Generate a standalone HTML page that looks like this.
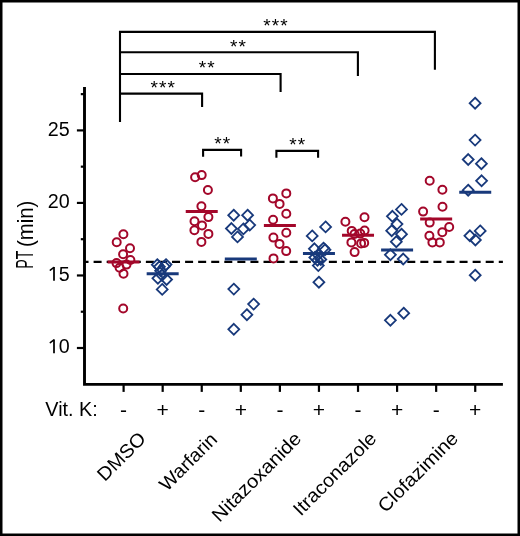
<!DOCTYPE html>
<html><head><meta charset="utf-8"><style>
html,body{margin:0;padding:0;background:#fff;}
svg{display:block;will-change:transform;}
</style></head><body>
<svg width="520" height="536" viewBox="0 0 520 536">
<rect x="1.25" y="1.25" width="517.5" height="533.5" fill="none" stroke="#000" stroke-width="2.5"/>
<path d="M120 122 V31.9 H434.9 V69.8 M120 52.2 H357.9 V76 M120 74 H280.6 V91.9 M120 93.6 H202.1 V106.9" fill="none" stroke="#000" stroke-width="2.1"/>
<path d="M203.1 156.8 V149.9 H241.1 V156.6 M276.4 157.8 V150.9 H318.1 V157.8" fill="none" stroke="#000" stroke-width="2.1"/>
<line x1="84" y1="261.9" x2="502.9" y2="261.9" stroke="#000" stroke-width="2.1" stroke-dasharray="8 5.07" stroke-dashoffset="3.47"/>
<path d="M84.5 86.9 V384.4 H502.9" fill="none" stroke="#000" stroke-width="2.9"/>
<line x1="76.9" y1="130.40" x2="84.5" y2="130.40" stroke="#000" stroke-width="2.2"/>
<line x1="76.9" y1="202.93" x2="84.5" y2="202.93" stroke="#000" stroke-width="2.2"/>
<line x1="76.9" y1="275.47" x2="84.5" y2="275.47" stroke="#000" stroke-width="2.2"/>
<line x1="76.9" y1="348.00" x2="84.5" y2="348.00" stroke="#000" stroke-width="2.2"/>
<line x1="80.8" y1="94.13" x2="84.5" y2="94.13" stroke="#000" stroke-width="2.2"/>
<line x1="80.8" y1="166.66" x2="84.5" y2="166.66" stroke="#000" stroke-width="2.2"/>
<line x1="80.8" y1="239.20" x2="84.5" y2="239.20" stroke="#000" stroke-width="2.2"/>
<line x1="80.8" y1="311.73" x2="84.5" y2="311.73" stroke="#000" stroke-width="2.2"/>
<line x1="123.60" y1="384.4" x2="123.60" y2="391.9" stroke="#000" stroke-width="2.2"/>
<line x1="162.67" y1="384.4" x2="162.67" y2="391.9" stroke="#000" stroke-width="2.2"/>
<line x1="201.74" y1="384.4" x2="201.74" y2="391.9" stroke="#000" stroke-width="2.2"/>
<line x1="240.81" y1="384.4" x2="240.81" y2="391.9" stroke="#000" stroke-width="2.2"/>
<line x1="279.88" y1="384.4" x2="279.88" y2="391.9" stroke="#000" stroke-width="2.2"/>
<line x1="318.95" y1="384.4" x2="318.95" y2="391.9" stroke="#000" stroke-width="2.2"/>
<line x1="358.02" y1="384.4" x2="358.02" y2="391.9" stroke="#000" stroke-width="2.2"/>
<line x1="397.09" y1="384.4" x2="397.09" y2="391.9" stroke="#000" stroke-width="2.2"/>
<line x1="436.16" y1="384.4" x2="436.16" y2="391.9" stroke="#000" stroke-width="2.2"/>
<line x1="475.23" y1="384.4" x2="475.23" y2="391.9" stroke="#000" stroke-width="2.2"/>
<circle cx="123.4" cy="234.3" r="4.0" fill="none" stroke="#a3072a" stroke-width="2.0"/>
<circle cx="116.7" cy="242.2" r="4.0" fill="none" stroke="#a3072a" stroke-width="2.0"/>
<circle cx="130" cy="248.3" r="4.0" fill="none" stroke="#a3072a" stroke-width="2.0"/>
<circle cx="123.1" cy="254.2" r="4.0" fill="none" stroke="#a3072a" stroke-width="2.0"/>
<circle cx="130.4" cy="260" r="4.0" fill="none" stroke="#a3072a" stroke-width="2.0"/>
<circle cx="116.5" cy="263.1" r="4.0" fill="none" stroke="#a3072a" stroke-width="2.0"/>
<circle cx="119.6" cy="267.7" r="4.0" fill="none" stroke="#a3072a" stroke-width="2.0"/>
<circle cx="126.5" cy="264.6" r="4.0" fill="none" stroke="#a3072a" stroke-width="2.0"/>
<circle cx="123.5" cy="273.8" r="4.0" fill="none" stroke="#a3072a" stroke-width="2.0"/>
<circle cx="123.2" cy="308.5" r="4.0" fill="none" stroke="#a3072a" stroke-width="2.0"/>
<circle cx="195.1" cy="177.3" r="4.0" fill="none" stroke="#a3072a" stroke-width="2.0"/>
<circle cx="201.7" cy="175.1" r="4.0" fill="none" stroke="#a3072a" stroke-width="2.0"/>
<circle cx="207.9" cy="190" r="4.0" fill="none" stroke="#a3072a" stroke-width="2.0"/>
<circle cx="201.4" cy="206.2" r="4.0" fill="none" stroke="#a3072a" stroke-width="2.0"/>
<circle cx="208.4" cy="217.1" r="4.0" fill="none" stroke="#a3072a" stroke-width="2.0"/>
<circle cx="194.5" cy="221.3" r="4.0" fill="none" stroke="#a3072a" stroke-width="2.0"/>
<circle cx="202" cy="225.4" r="4.0" fill="none" stroke="#a3072a" stroke-width="2.0"/>
<circle cx="194.4" cy="230.2" r="4.0" fill="none" stroke="#a3072a" stroke-width="2.0"/>
<circle cx="208.4" cy="233.9" r="4.0" fill="none" stroke="#a3072a" stroke-width="2.0"/>
<circle cx="201.4" cy="241.9" r="4.0" fill="none" stroke="#a3072a" stroke-width="2.0"/>
<circle cx="286.3" cy="193.4" r="4.0" fill="none" stroke="#a3072a" stroke-width="2.0"/>
<circle cx="272.9" cy="198.4" r="4.0" fill="none" stroke="#a3072a" stroke-width="2.0"/>
<circle cx="279.6" cy="203.9" r="4.0" fill="none" stroke="#a3072a" stroke-width="2.0"/>
<circle cx="286.3" cy="213.8" r="4.0" fill="none" stroke="#a3072a" stroke-width="2.0"/>
<circle cx="273.1" cy="219.8" r="4.0" fill="none" stroke="#a3072a" stroke-width="2.0"/>
<circle cx="286.3" cy="232.7" r="4.0" fill="none" stroke="#a3072a" stroke-width="2.0"/>
<circle cx="273.4" cy="237.6" r="4.0" fill="none" stroke="#a3072a" stroke-width="2.0"/>
<circle cx="279.5" cy="243.9" r="4.0" fill="none" stroke="#a3072a" stroke-width="2.0"/>
<circle cx="286.2" cy="251.1" r="4.0" fill="none" stroke="#a3072a" stroke-width="2.0"/>
<circle cx="273.5" cy="258.4" r="4.0" fill="none" stroke="#a3072a" stroke-width="2.0"/>
<circle cx="364.5" cy="217.3" r="4.0" fill="none" stroke="#a3072a" stroke-width="2.0"/>
<circle cx="345.4" cy="221.7" r="4.0" fill="none" stroke="#a3072a" stroke-width="2.0"/>
<circle cx="351.7" cy="230.9" r="4.0" fill="none" stroke="#a3072a" stroke-width="2.0"/>
<circle cx="364.6" cy="230.6" r="4.0" fill="none" stroke="#a3072a" stroke-width="2.0"/>
<circle cx="354.5" cy="234.0" r="4.0" fill="none" stroke="#a3072a" stroke-width="2.0"/>
<circle cx="360.3" cy="233.6" r="4.0" fill="none" stroke="#a3072a" stroke-width="2.0"/>
<circle cx="351.4" cy="242.4" r="4.0" fill="none" stroke="#a3072a" stroke-width="2.0"/>
<circle cx="361.1" cy="243.4" r="4.0" fill="none" stroke="#a3072a" stroke-width="2.0"/>
<circle cx="364.2" cy="242.9" r="4.0" fill="none" stroke="#a3072a" stroke-width="2.0"/>
<circle cx="354.6" cy="252.1" r="4.0" fill="none" stroke="#a3072a" stroke-width="2.0"/>
<circle cx="429.7" cy="180.7" r="4.0" fill="none" stroke="#a3072a" stroke-width="2.0"/>
<circle cx="442.4" cy="189.7" r="4.0" fill="none" stroke="#a3072a" stroke-width="2.0"/>
<circle cx="442.5" cy="206.8" r="4.0" fill="none" stroke="#a3072a" stroke-width="2.0"/>
<circle cx="423.1" cy="211.6" r="4.0" fill="none" stroke="#a3072a" stroke-width="2.0"/>
<circle cx="429.7" cy="222.6" r="4.0" fill="none" stroke="#a3072a" stroke-width="2.0"/>
<circle cx="449.2" cy="227" r="4.0" fill="none" stroke="#a3072a" stroke-width="2.0"/>
<circle cx="442.3" cy="232.3" r="4.0" fill="none" stroke="#a3072a" stroke-width="2.0"/>
<circle cx="429.4" cy="235.7" r="4.0" fill="none" stroke="#a3072a" stroke-width="2.0"/>
<circle cx="432.4" cy="242.4" r="4.0" fill="none" stroke="#a3072a" stroke-width="2.0"/>
<circle cx="439.8" cy="242.4" r="4.0" fill="none" stroke="#a3072a" stroke-width="2.0"/>
<path d="M157.3 259.25L162.75 264.7L157.3 270.15L151.85 264.7Z" fill="none" stroke="#18397b" stroke-width="1.8"/>
<path d="M159.4 261.35L164.85 266.8L159.4 272.25L153.95 266.8Z" fill="none" stroke="#18397b" stroke-width="1.8"/>
<path d="M166.0 259.15L171.45 264.6L166.0 270.05L160.55 264.6Z" fill="none" stroke="#18397b" stroke-width="1.8"/>
<path d="M164.4 260.95L169.85 266.4L164.4 271.85L158.95 266.4Z" fill="none" stroke="#18397b" stroke-width="1.8"/>
<path d="M160.6 265.35L166.05 270.8L160.6 276.25L155.15 270.8Z" fill="none" stroke="#18397b" stroke-width="1.8"/>
<path d="M157.9 272.85L163.35 278.3L157.9 283.75L152.45 278.3Z" fill="none" stroke="#18397b" stroke-width="1.8"/>
<path d="M166.6 274.05L172.05 279.5L166.6 284.95L161.15 279.5Z" fill="none" stroke="#18397b" stroke-width="1.8"/>
<path d="M162 269.85L167.45 275.3L162 280.75L156.55 275.3Z" fill="none" stroke="#18397b" stroke-width="1.8"/>
<path d="M162.2 283.95L167.65 289.4L162.2 294.85L156.75 289.4Z" fill="none" stroke="#18397b" stroke-width="1.8"/>
<path d="M233.7 209.75L239.15 215.2L233.7 220.65L228.25 215.2Z" fill="none" stroke="#18397b" stroke-width="1.8"/>
<path d="M247.6 209.75L253.05 215.2L247.6 220.65L242.15 215.2Z" fill="none" stroke="#18397b" stroke-width="1.8"/>
<path d="M231.4 223.05L236.85 228.5L231.4 233.95L225.95 228.5Z" fill="none" stroke="#18397b" stroke-width="1.8"/>
<path d="M243.4 223.45L248.85 228.9L243.4 234.35L237.95 228.9Z" fill="none" stroke="#18397b" stroke-width="1.8"/>
<path d="M249.7 219.65L255.15 225.1L249.7 230.55L244.25 225.1Z" fill="none" stroke="#18397b" stroke-width="1.8"/>
<path d="M237.5 231.45L242.95 236.9L237.5 242.35L232.05 236.9Z" fill="none" stroke="#18397b" stroke-width="1.8"/>
<path d="M233.8 283.65L239.25 289.1L233.8 294.55L228.35 289.1Z" fill="none" stroke="#18397b" stroke-width="1.8"/>
<path d="M253.6 298.65L259.05 304.1L253.6 309.55L248.15 304.1Z" fill="none" stroke="#18397b" stroke-width="1.8"/>
<path d="M246.9 309.25L252.35 314.7L246.9 320.15L241.45 314.7Z" fill="none" stroke="#18397b" stroke-width="1.8"/>
<path d="M233.8 323.85L239.25 329.3L233.8 334.75L228.35 329.3Z" fill="none" stroke="#18397b" stroke-width="1.8"/>
<path d="M325.6 221.45L331.05 226.9L325.6 232.35L320.15 226.9Z" fill="none" stroke="#18397b" stroke-width="1.8"/>
<path d="M312.2 230.45L317.65 235.9L312.2 241.35L306.75 235.9Z" fill="none" stroke="#18397b" stroke-width="1.8"/>
<path d="M314.4 243.35L319.85 248.8L314.4 254.25L308.95 248.8Z" fill="none" stroke="#18397b" stroke-width="1.8"/>
<path d="M323.5 242.65L328.95 248.1L323.5 253.55L318.05 248.1Z" fill="none" stroke="#18397b" stroke-width="1.8"/>
<path d="M314.8 252.05L320.25 257.5L314.8 262.95L309.35 257.5Z" fill="none" stroke="#18397b" stroke-width="1.8"/>
<path d="M318.1 249.35L323.55 254.8L318.1 260.25L312.65 254.8Z" fill="none" stroke="#18397b" stroke-width="1.8"/>
<path d="M317.5 254.75L322.95 260.2L317.5 265.65L312.05 260.2Z" fill="none" stroke="#18397b" stroke-width="1.8"/>
<path d="M320.8 254.05L326.25 259.5L320.8 264.95L315.35 259.5Z" fill="none" stroke="#18397b" stroke-width="1.8"/>
<path d="M318.3 260.15L323.75 265.6L318.3 271.05L312.85 265.6Z" fill="none" stroke="#18397b" stroke-width="1.8"/>
<path d="M325.0 244.35L330.45 249.8L325.0 255.25L319.55 249.8Z" fill="none" stroke="#18397b" stroke-width="1.8"/>
<path d="M318.9 276.75L324.35 282.2L318.9 287.65L313.45 282.2Z" fill="none" stroke="#18397b" stroke-width="1.8"/>
<path d="M401.5 203.95L406.95 209.4L401.5 214.85L396.05 209.4Z" fill="none" stroke="#18397b" stroke-width="1.8"/>
<path d="M392.4 210.85L397.85 216.3L392.4 221.75L386.95 216.3Z" fill="none" stroke="#18397b" stroke-width="1.8"/>
<path d="M397 218.65L402.45 224.1L397 229.55L391.55 224.1Z" fill="none" stroke="#18397b" stroke-width="1.8"/>
<path d="M391.7 225.25L397.15 230.7L391.7 236.15L386.25 230.7Z" fill="none" stroke="#18397b" stroke-width="1.8"/>
<path d="M401.5 228.75L406.95 234.2L401.5 239.65L396.05 234.2Z" fill="none" stroke="#18397b" stroke-width="1.8"/>
<path d="M396.3 236.25L401.75 241.7L396.3 247.15L390.85 241.7Z" fill="none" stroke="#18397b" stroke-width="1.8"/>
<path d="M390.4 249.35L395.85 254.8L390.4 260.25L384.95 254.8Z" fill="none" stroke="#18397b" stroke-width="1.8"/>
<path d="M403.2 253.55L408.65 259L403.2 264.45L397.75 259Z" fill="none" stroke="#18397b" stroke-width="1.8"/>
<path d="M403.7 307.75L409.15 313.2L403.7 318.65L398.25 313.2Z" fill="none" stroke="#18397b" stroke-width="1.8"/>
<path d="M390.4 314.85L395.85 320.3L390.4 325.75L384.95 320.3Z" fill="none" stroke="#18397b" stroke-width="1.8"/>
<path d="M475.1 97.75L480.55 103.2L475.1 108.65L469.65 103.2Z" fill="none" stroke="#18397b" stroke-width="1.8"/>
<path d="M475.1 134.65L480.55 140.1L475.1 145.55L469.65 140.1Z" fill="none" stroke="#18397b" stroke-width="1.8"/>
<path d="M468.2 154.05L473.65 159.5L468.2 164.95L462.75 159.5Z" fill="none" stroke="#18397b" stroke-width="1.8"/>
<path d="M481.4 158.25L486.85 163.7L481.4 169.15L475.95 163.7Z" fill="none" stroke="#18397b" stroke-width="1.8"/>
<path d="M481.6 175.35L487.05 180.8L481.6 186.25L476.15 180.8Z" fill="none" stroke="#18397b" stroke-width="1.8"/>
<path d="M468.2 184.75L473.65 190.2L468.2 195.65L462.75 190.2Z" fill="none" stroke="#18397b" stroke-width="1.8"/>
<path d="M480.2 225.45L485.65 230.9L480.2 236.35L474.75 230.9Z" fill="none" stroke="#18397b" stroke-width="1.8"/>
<path d="M469.9 230.35L475.35 235.8L469.9 241.25L464.45 235.8Z" fill="none" stroke="#18397b" stroke-width="1.8"/>
<path d="M475.4 234.55L480.85 240L475.4 245.45L469.95 240Z" fill="none" stroke="#18397b" stroke-width="1.8"/>
<path d="M475.2 269.75L480.65 275.2L475.2 280.65L469.75 275.2Z" fill="none" stroke="#18397b" stroke-width="1.8"/>
<line x1="107.60" y1="261.9" x2="139.60" y2="261.9" stroke="#a3072a" stroke-width="3"/>
<line x1="146.67" y1="273.7" x2="178.67" y2="273.7" stroke="#18397b" stroke-width="3"/>
<line x1="185.74" y1="211.4" x2="217.74" y2="211.4" stroke="#a3072a" stroke-width="3"/>
<line x1="224.81" y1="258.9" x2="256.81" y2="258.9" stroke="#18397b" stroke-width="3"/>
<line x1="263.88" y1="225.4" x2="295.88" y2="225.4" stroke="#a3072a" stroke-width="3"/>
<line x1="302.95" y1="253.5" x2="334.95" y2="253.5" stroke="#18397b" stroke-width="3"/>
<line x1="342.02" y1="235.2" x2="374.02" y2="235.2" stroke="#a3072a" stroke-width="3"/>
<line x1="381.09" y1="250.1" x2="413.09" y2="250.1" stroke="#18397b" stroke-width="3"/>
<line x1="420.16" y1="218.9" x2="452.16" y2="218.9" stroke="#a3072a" stroke-width="3"/>
<line x1="459.23" y1="192.3" x2="491.23" y2="192.3" stroke="#18397b" stroke-width="3"/>
<text x="69.6" y="135.70" font-size="19.7" text-anchor="end" font-family="Liberation Sans, sans-serif">25</text>
<text x="69.6" y="208.23" font-size="19.7" text-anchor="end" font-family="Liberation Sans, sans-serif">20</text>
<text x="69.6" y="280.77" font-size="19.7" text-anchor="end" font-family="Liberation Sans, sans-serif">5</text>
<path d="M54.0 266.97 V280.77" fill="none" stroke="#000" stroke-width="1.75"/>
<path d="M53.6 267.57 L50.3 270.07" fill="none" stroke="#000" stroke-width="1.6" stroke-linecap="round"/>
<text x="69.6" y="353.30" font-size="19.7" text-anchor="end" font-family="Liberation Sans, sans-serif">0</text>
<path d="M54.0 339.50 V353.30" fill="none" stroke="#000" stroke-width="1.75"/>
<path d="M53.6 340.10 L50.3 342.60" fill="none" stroke="#000" stroke-width="1.6" stroke-linecap="round"/>
<text x="45.3" y="415.6" font-size="19.8" font-family="Liberation Sans, sans-serif">Vit. K:</text>
<text x="123.60" y="416.8" font-size="21" text-anchor="middle" font-family="Liberation Sans, sans-serif">-</text>
<text x="162.67" y="416.8" font-size="21" text-anchor="middle" font-family="Liberation Sans, sans-serif">+</text>
<text x="201.74" y="416.8" font-size="21" text-anchor="middle" font-family="Liberation Sans, sans-serif">-</text>
<text x="240.81" y="416.8" font-size="21" text-anchor="middle" font-family="Liberation Sans, sans-serif">+</text>
<text x="279.88" y="416.8" font-size="21" text-anchor="middle" font-family="Liberation Sans, sans-serif">-</text>
<text x="318.95" y="416.8" font-size="21" text-anchor="middle" font-family="Liberation Sans, sans-serif">+</text>
<text x="358.02" y="416.8" font-size="21" text-anchor="middle" font-family="Liberation Sans, sans-serif">-</text>
<text x="397.09" y="416.8" font-size="21" text-anchor="middle" font-family="Liberation Sans, sans-serif">+</text>
<text x="436.16" y="416.8" font-size="21" text-anchor="middle" font-family="Liberation Sans, sans-serif">-</text>
<text x="475.23" y="416.8" font-size="21" text-anchor="middle" font-family="Liberation Sans, sans-serif">+</text>
<text x="163.20" y="93.6" font-size="19" letter-spacing="1.05" text-anchor="middle" font-family="Liberation Sans, sans-serif">***</text>
<text x="207.30" y="74" font-size="19" letter-spacing="1.05" text-anchor="middle" font-family="Liberation Sans, sans-serif">**</text>
<text x="238.50" y="52.6" font-size="19" letter-spacing="1.05" text-anchor="middle" font-family="Liberation Sans, sans-serif">**</text>
<text x="276.00" y="32" font-size="19" letter-spacing="1.05" text-anchor="middle" font-family="Liberation Sans, sans-serif">***</text>
<text x="222.70" y="149.8" font-size="19" letter-spacing="1.05" text-anchor="middle" font-family="Liberation Sans, sans-serif">**</text>
<text x="297.80" y="150.8" font-size="19" letter-spacing="1.05" text-anchor="middle" font-family="Liberation Sans, sans-serif">**</text>
<text transform="translate(33.4 268.77) rotate(-90) scale(0.619 1)" font-size="23" font-family="Liberation Sans, sans-serif">PT</text>
<text transform="translate(33.4 246.96) rotate(-90) scale(0.885 1)" font-size="23" font-family="Liberation Sans, sans-serif">(min)</text>
<text transform="translate(104.77 482.13) rotate(-45)" font-size="19.0" textLength="59.79" lengthAdjust="spacingAndGlyphs" font-family="Liberation Sans, sans-serif">DMSO</text>
<text transform="translate(167.10 491.92) rotate(-45)" font-size="19.0" textLength="72.63" lengthAdjust="spacingAndGlyphs" font-family="Liberation Sans, sans-serif">Warfarin</text>
<text transform="translate(219.58 522.88) rotate(-45)" font-size="19.0" textLength="117.37" lengthAdjust="spacingAndGlyphs" font-family="Liberation Sans, sans-serif">Nitazoxanide</text>
<text transform="translate(300.77 516.64) rotate(-45)" font-size="19.0" textLength="108.73" lengthAdjust="spacingAndGlyphs" font-family="Liberation Sans, sans-serif">Itraconazole</text>
<text transform="translate(385.43 513.44) rotate(-45)" font-size="19.0" textLength="104.50" lengthAdjust="spacingAndGlyphs" font-family="Liberation Sans, sans-serif">Clofazimine</text>
</svg>
</body></html>
